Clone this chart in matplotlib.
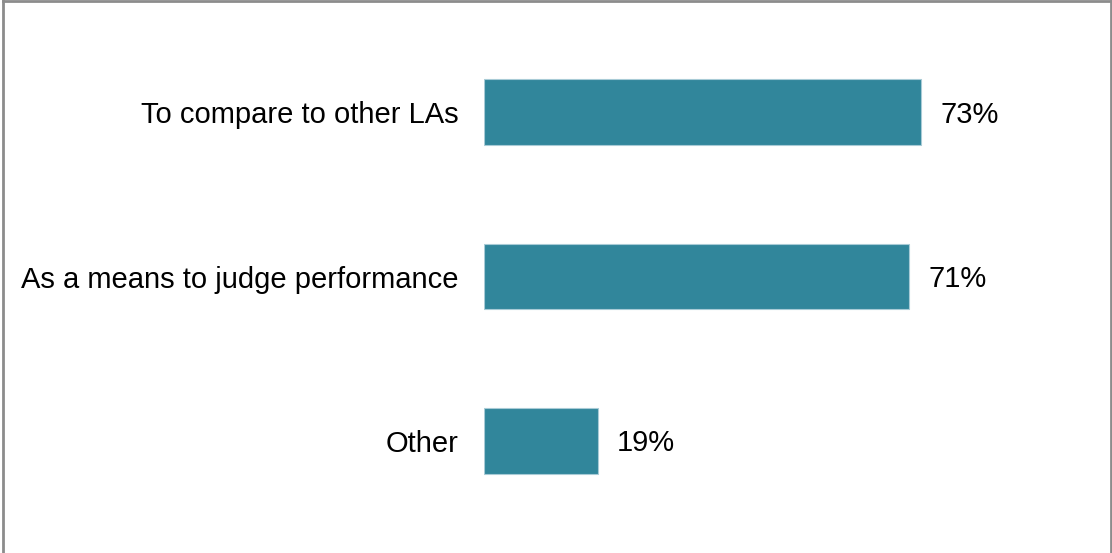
import matplotlib
matplotlib.use("Agg")
import matplotlib.pyplot as plt
from matplotlib.lines import Line2D

plt.rcParams['font.family'] = ['Liberation Sans', 'DejaVu Sans']

categories = ["To compare to other LAs", "As a means to judge performance", "Other"]
values = [73, 71, 19]
bar_color = "#31869B"

fig = plt.figure(figsize=(11.12, 5.53), dpi=100)
ax = fig.add_axes([484 / 1112, 30 / 553, 599 / 1112, 493 / 553])

ypos = list(range(len(categories)))
ax.barh(ypos, values, height=0.4, color=bar_color, edgecolor="#A8CBD6", linewidth=0.8)
for y, v in zip(ypos, values):
    # baseline placed so the digits sit centred on the bar
    ax.annotate(f"{v}%", xy=(v, y), xytext=(13.5, -7.5), textcoords="offset points",
                va="baseline", ha="left", fontsize=21, color="black")

ax.set_xlim(0, 100)
ax.set_ylim(len(categories) - 0.5, -0.5)
ax.set_yticks(ypos)
ax.set_yticklabels(categories, fontsize=21)
ax.tick_params(axis="y", length=0, pad=18.5)
ax.set_xticks([])
for s in ax.spines.values():
    s.set_visible(False)

# frame around the chart area (open at the bottom)
frame = dict(color="#8C8C8C", linewidth=2, transform=fig.transFigure)
fig.add_artist(Line2D([3 / 1112, 3 / 1112], [0, 1 - 1 / 553], **frame))
fig.add_artist(Line2D([3 / 1112, 1111 / 1112], [1 - 1 / 553, 1 - 1 / 553], **frame))
fig.add_artist(Line2D([1111 / 1112, 1111 / 1112], [0, 1 - 1 / 553], **frame))

fig.savefig("out.png", dpi=100, facecolor="white")
